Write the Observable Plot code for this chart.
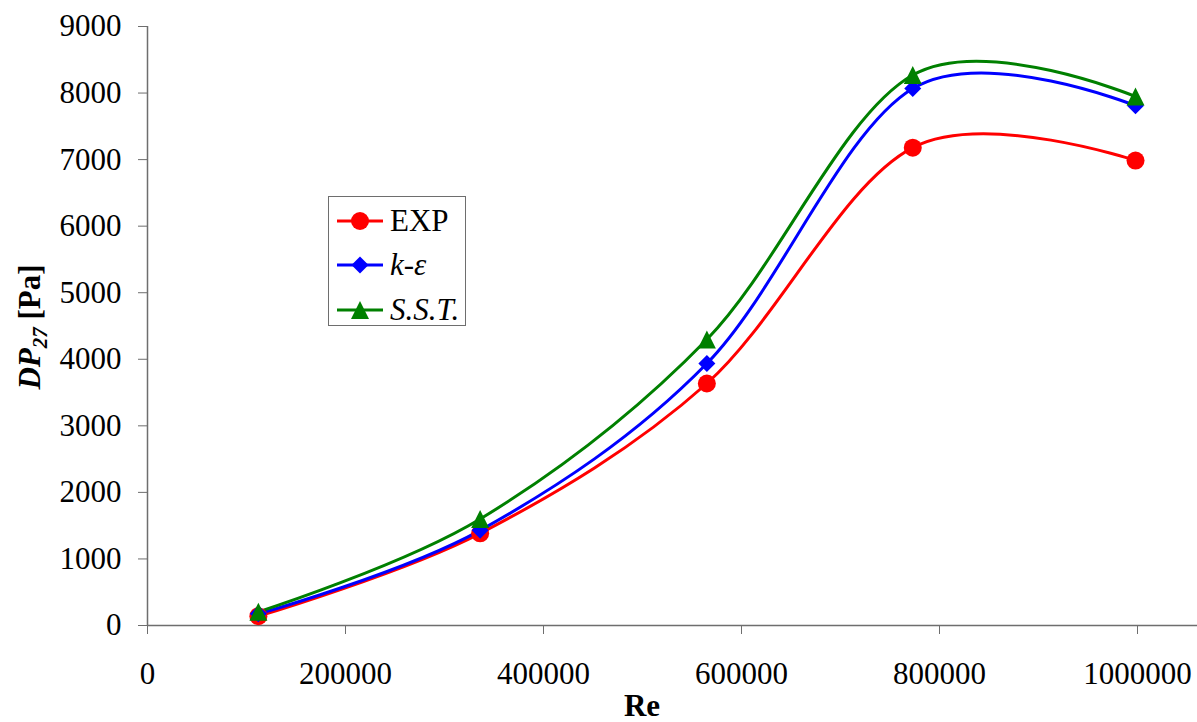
<!DOCTYPE html>
<html>
<head>
<meta charset="utf-8">
<script src="https://cdn.jsdelivr.net/npm/d3@7"></script>
<script src="https://cdn.jsdelivr.net/npm/@observablehq/plot@0.6"></script>
<style>
  html, body { margin: 0; padding: 0; background: #fff; }
  #wrap { position: relative; width: 1197px; height: 722px; }
  #legend { position: absolute; left: 328px; top: 196px; width: 138px; height: 130px; border: 1.5px solid #6e6e6e; background: #fff; box-sizing: border-box; }
  .item { position: absolute; left: 8px; height: 34px; display: flex; align-items: center; color: #000; white-space: nowrap; }
  .item svg { margin-right: 7px; flex: none; }
</style>
</head>
<body>
<div id="wrap"></div>
<script>
const re = [112000, 336000, 565000, 773000, 998000];
const expVals = [140, 1385, 3636, 7180, 6986];
const keVals = [175, 1430, 3936, 8068, 7810];
const sstVals = [205, 1600, 4297, 8271, 7948];
const seriesNames = ["EXP", "k-ε", "S.S.T."];
const seriesColors = ["#ff0000", "#0000ff", "#008000"];
const xTicks = [0, 200000, 400000, 600000, 800000, 1000000];
const yTicks = [0, 1000, 2000, 3000, 4000, 5000, 6000, 7000, 8000, 9000];

// pick an installed serif font (Times-like); fall back to sans scaled to the same digit width
function hasFont(name) {
  const c = document.createElement("canvas").getContext("2d");
  const s = "0123456789 EXP k-ε S.S.T. DP [Pa] Re";
  c.font = `40px "${name}", monospace`; const a = c.measureText(s).width;
  c.font = `40px "${name}", sans-serif`; const b = c.measureText(s).width;
  c.font = `40px monospace`; const m = c.measureText(s).width;
  return Math.abs(a - b) < 0.5 && Math.abs(a - m) > 0.5;
}
const serifCandidates = ["Liberation Serif", "Times New Roman", "Tinos", "Noto Serif", "DejaVu Serif", "FreeSerif", "Nimbus Roman", "Times"];
let fontName = serifCandidates.find(hasFont);
let fs = 31;
if (!fontName) { fontName = "Liberation Sans"; fs = 28; }
const FONT = `"${fontName}", serif`;

// marker shapes
const squareDiamond = {draw(ctx, size) { const h = Math.sqrt(size / Math.PI); ctx.moveTo(0, -h); ctx.lineTo(h, 0); ctx.lineTo(0, h); ctx.lineTo(-h, 0); ctx.closePath(); }};
const wideTriangle = {draw(ctx, size) { const h = Math.sqrt(size / Math.PI); ctx.moveTo(0, -h); ctx.lineTo(h, h); ctx.lineTo(-h, h); ctx.closePath(); }};
const seriesSymbols = [d3.symbolCircle, squareDiamond, wideTriangle];
const markerR = [9, 8.5, 9];

const allVals = [expVals, keVals, sstVals];
const rows = [];
allVals.forEach((vals, s) => vals.forEach((v, i) => rows.push({series: seriesNames[s], re: re[i], dp: v})));

const marks = [
  Plot.ruleY([0], {stroke: "#6e6e6e", strokeWidth: 1.5}),
  Plot.ruleX([0], {stroke: "#6e6e6e", strokeWidth: 1.5}),
  Plot.axisY({ticks: yTicks, tickSize: 9, tickPadding: 17, tickFormat: d3.format("d"), label: null, stroke: "#6e6e6e", fill: "#000"}),
  Plot.axisX({ticks: xTicks, tickSize: 9, tickPadding: 27, tickFormat: d3.format("d"), label: null, stroke: "#6e6e6e", fill: "#000"})
];
seriesNames.forEach((name, s) => {
  marks.push(Plot.line(rows.filter(d => d.series === name), {x: "re", y: "dp", stroke: seriesColors[s], strokeWidth: 3, curve: "cardinal"}));
});
seriesNames.forEach((name, s) => {
  marks.push(Plot.dot(rows.filter(d => d.series === name), {x: "re", y: "dp", fill: seriesColors[s], symbol: seriesSymbols[s], r: markerR[s], stroke: "none"}));
});

const chart = Plot.plot({
  width: 1197,
  height: 722,
  marginLeft: 147,
  marginRight: 0,
  marginTop: 26,
  marginBottom: 97,
  x: {domain: [0, 1060606]},
  y: {domain: [0, 9000]},
  style: {fontFamily: FONT, fontSize: fs + "px", background: "#fff", color: "#000"},
  marks
});

const wrap = document.getElementById("wrap");
wrap.appendChild(chart);

// axis titles
const svg = d3.select(chart);
const yt = svg.append("text")
  .attr("transform", "translate(40,327) rotate(-90)")
  .attr("text-anchor", "middle")
  .style("font-family", FONT)
  .attr("font-size", fs)
  .attr("font-weight", "bold")
  .attr("fill", "#000");
yt.append("tspan").attr("font-style", "italic").text("DP");
yt.append("tspan").attr("font-style", "italic").attr("font-size", Math.round(fs * 0.68)).attr("dy", 7).text("27");
yt.append("tspan").attr("dy", -7).text(" [Pa]");

svg.append("text")
  .attr("x", 642).attr("y", 716)
  .attr("text-anchor", "middle")
  .style("font-family", FONT)
  .attr("font-size", fs)
  .attr("font-weight", "bold")
  .attr("fill", "#000")
  .text("Re");

// legend
const legend = document.createElement("div");
legend.id = "legend";
legend.style.fontFamily = FONT;
const tops = [7, 51, 96];
const ns = "http://www.w3.org/2000/svg";
seriesNames.forEach((name, s) => {
  const item = document.createElement("div");
  item.className = "item";
  item.style.top = tops[s] + "px";
  item.style.fontSize = fs + "px";
  const sv = document.createElementNS(ns, "svg");
  sv.setAttribute("width", 46); sv.setAttribute("height", 24);
  const ln = document.createElementNS(ns, "line");
  ln.setAttribute("x1", 0); ln.setAttribute("x2", 46); ln.setAttribute("y1", 12); ln.setAttribute("y2", 12);
  ln.setAttribute("stroke", seriesColors[s]); ln.setAttribute("stroke-width", 3);
  sv.appendChild(ln);
  const p = document.createElementNS(ns, "path");
  p.setAttribute("d", d3.symbol(seriesSymbols[s], Math.PI * markerR[s] * markerR[s])());
  p.setAttribute("transform", "translate(23,12)");
  p.setAttribute("fill", seriesColors[s]);
  sv.appendChild(p);
  item.appendChild(sv);
  const t = document.createElement("span");
  t.textContent = name;
  if (s > 0) t.style.fontStyle = "italic";
  item.appendChild(t);
  legend.appendChild(item);
});
wrap.appendChild(legend);
</script>
</body>
</html>
